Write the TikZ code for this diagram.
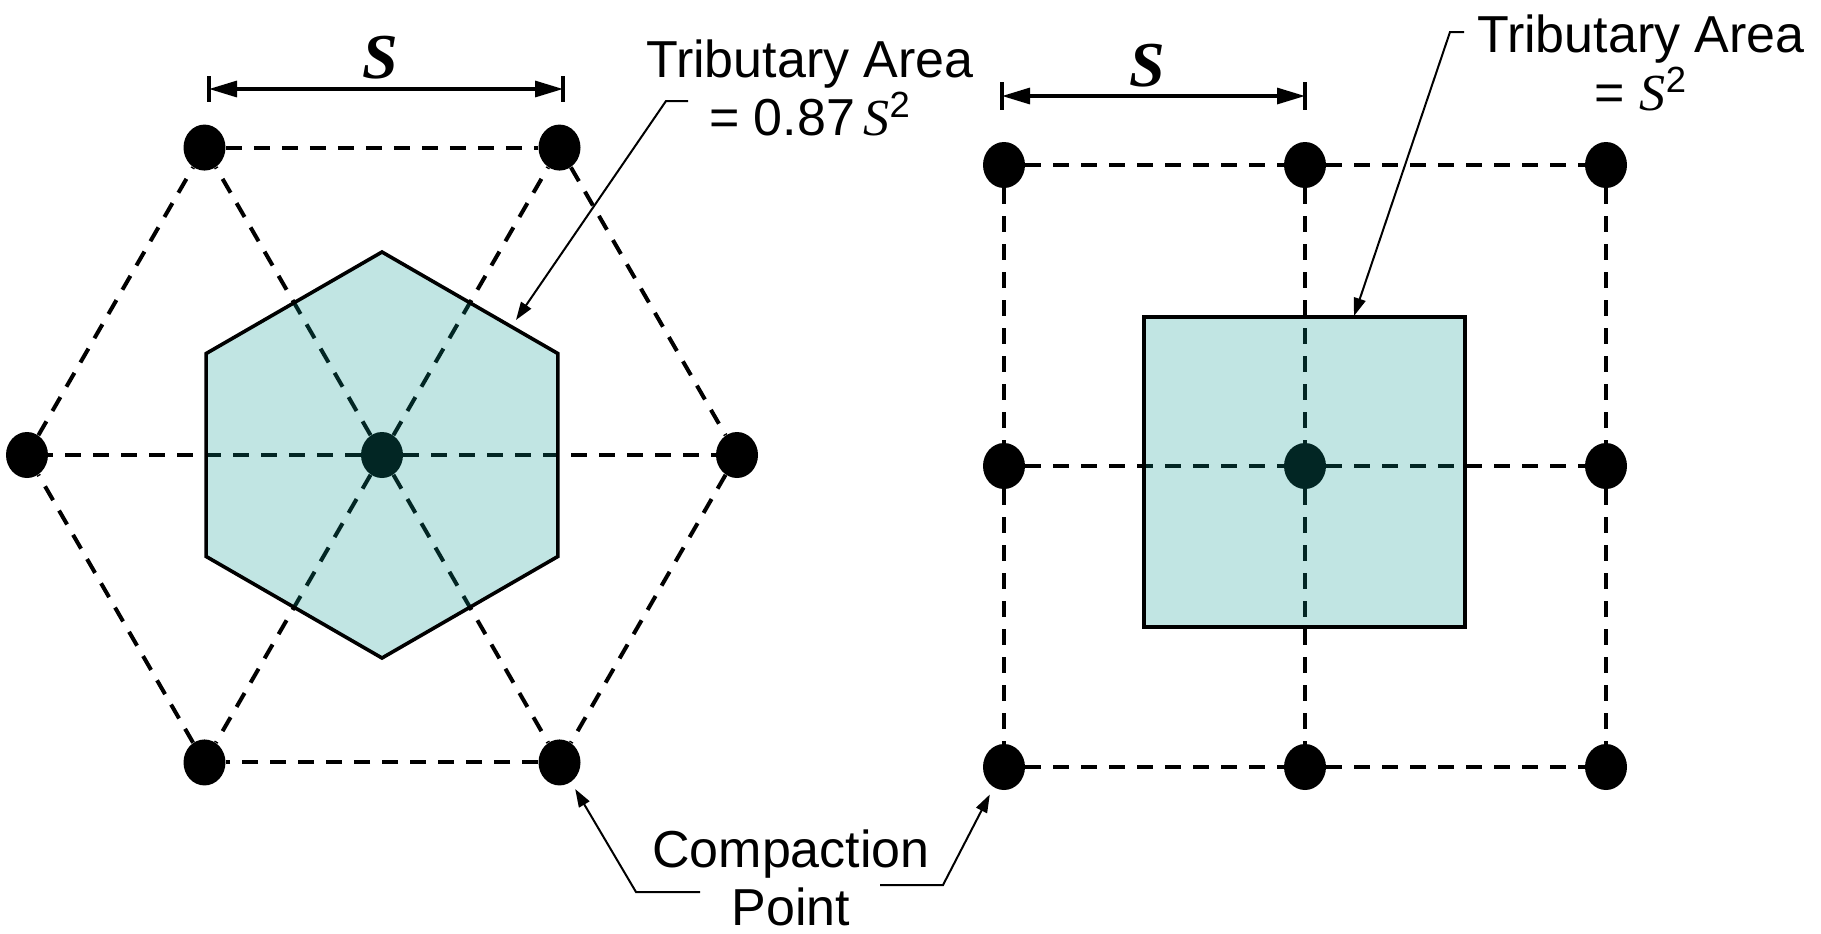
\documentclass[tikz,border=0pt]{standalone}
\usepackage{fontspec}
\setmainfont{Liberation Sans}
\newfontfamily\timesfont{Liberation Serif}
\usetikzlibrary{arrows.meta,shapes.geometric}

\definecolor{areateal}{RGB}{8,153,145}

\tikzset{
  dot/.style={ellipse, fill=black, inner sep=0pt, minimum width=21pt, minimum height=23pt},
  lattice/.style={line width=2pt, dash pattern=on 8pt off 6pt},
  area/.style={draw=black, line width=1.8pt, fill=areateal, fill opacity=0.25},
  dimline/.style={line width=1.6pt, {Triangle[length=14pt,width=8pt]}-{Triangle[length=14pt,width=8pt]}},
  dimtick/.style={line width=2pt},
  leader/.style={line width=1pt, -{Triangle[length=9pt,width=6pt]}},
  lbl/.style={font=\fontsize{26}{29}\selectfont, align=center, inner sep=0pt},
  dimlbl/.style={font=\fontsize{32}{32}\selectfont\timesfont\bfseries\itshape, inner sep=0pt}
}

\begin{document}
\begin{tikzpicture}[x=0.5pt, y=-0.5pt]
    \useasboundingbox (0,0) rectangle (1821,933);

    % Triangular pattern
    \def\spacing{355} % distance between compaction points
    \node[dot] (hc) at (382,455) {};
    \foreach \k in {1,...,6}
        \node[dot] (h\k) at ([shift={(\k*60-60:\spacing)}]hc) {};
    \foreach \k/\n in {1/2,2/3,3/4,4/5,5/6,6/1} {
        \draw[lattice] (hc) -- (h\k);
        \draw[lattice] (h\k) -- (h\n);
    }

    % Hexagonal tributary area
    \draw[area, shift={(382,455)}] (30:203) -- (90:203) -- (150:203)
        -- (210:203) -- (270:203) -- (330:203) -- cycle;

    % Square pattern
    \def\gridstep{301}
    \foreach \i in {0,1,2} {
        \foreach \j in {0,1,2} {
            \node[dot] (g\i\j) at (1004+\i*\gridstep, 165+\j*\gridstep) {};
        }
    }
    \foreach \i in {0,1,2} {
        \foreach \j/\jn in {0/1,1/2} {
            \draw[lattice] (g\i\j) -- (g\i\jn);
            \draw[lattice] (g\j\i) -- (g\jn\i);
        }
    }

    % Square tributary area
    \draw[area] (1144,317) rectangle (1465,627);

    % Spacing dimensions
    \coordinate (dL1) at (209,89);
    \coordinate (dL2) at (563,89);
    \draw[dimline] (dL1) -- (dL2);
    \draw[dimtick] (dL1) ++(0,-13) -- ++(0,26);
    \draw[dimtick] (dL2) ++(0,-13) -- ++(0,26);
    \node[dimlbl] (sL) at (380,58) {S};

    \coordinate (dR1) at (1002,96);
    \coordinate (dR2) at (1305,96);
    \draw[dimline] (dR1) -- (dR2);
    \draw[dimtick] (dR1) ++(0,-14) -- ++(0,28);
    \draw[dimtick] (dR2) ++(0,-14) -- ++(0,28);
    \node[dimlbl] (sR) at (1147,66) {S};

    % Labels
    \node[lbl] (triL) at (810,88) {Tributary Area\\= 0.87\,{\timesfont\itshape S}\textsuperscript{2}};
    \node[lbl] (triR) at (1641,63) {Tributary Area\\= {\timesfont\itshape S}\textsuperscript{2}};
    \node[lbl] (comp) at (791,878) {Compaction\\Point};

    % Leaders
    \coordinate (tLa) at (688,101);
    \coordinate (tLb) at (666,101);
    \coordinate (tLc) at (516,320);
    \draw[leader] (tLa) -- (tLb) -- (tLc);

    \coordinate (tRa) at (1464,32);
    \coordinate (tRb) at (1450,32);
    \coordinate (tRc) at (1354,316);
    \draw[leader] (tRa) -- (tRb) -- (tRc);

    \coordinate (cLa) at (700,892);
    \coordinate (cLb) at (636,892);
    \draw[leader, shorten >=4pt] (cLa) -- (cLb) -- (h2);

    \coordinate (cRa) at (880,885);
    \coordinate (cRb) at (943,885);
    \draw[leader, shorten >=4pt] (cRa) -- (cRb) -- (g02);

\end{tikzpicture}
\end{document}
